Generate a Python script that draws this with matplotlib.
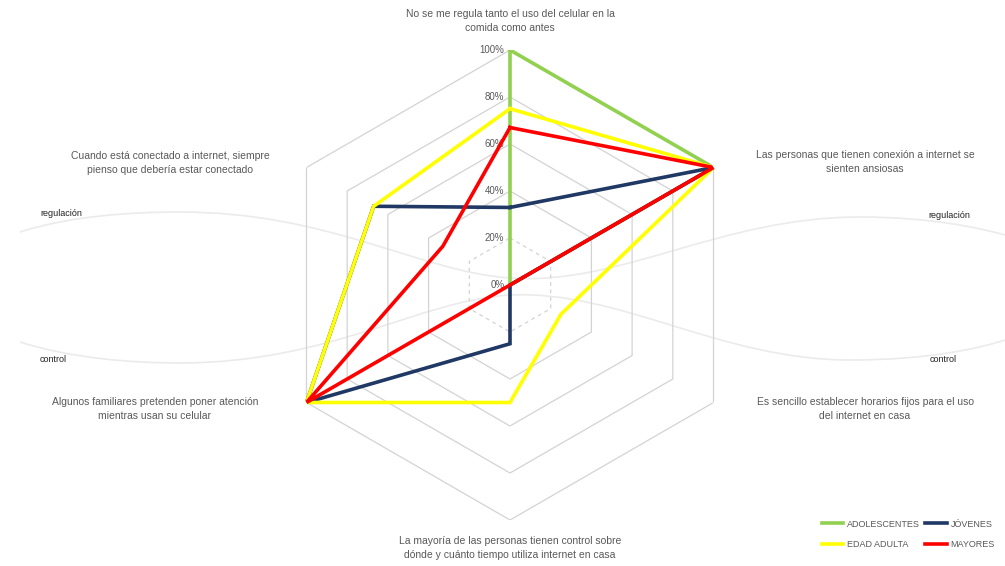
import matplotlib

matplotlib.use("Agg")
import matplotlib.pyplot as plt
import numpy as np
from matplotlib.path import Path
from matplotlib.patches import PathPatch

plt.rcParams["font.family"] = ["Liberation Sans", "DejaVu Sans"]

W, H = 1005, 566

# axes clockwise from the top
categories = [
    "No se me regula tanto el uso del celular en la\ncomida como antes",
    "Las personas que tienen conexión a internet se\nsienten ansiosas",
    "Es sencillo establecer horarios fijos para el uso\ndel internet en casa",
    "La mayoría de las personas tienen control sobre\ndónde y cuánto tiempo utiliza internet en casa",
    "Algunos familiares pretenden poner atención\nmientras usan su celular",
    "Cuando está conectado a internet, siempre\npienso que debería estar conectado",
]
series_names = ["ADOLESCENTES", "JÓVENES", "EDAD ADULTA", "MAYORES"]
adolescentes = [100, 100, 0, 0, 0, 0]
jovenes = [33, 100, 0, 25, 100, 67]
edad_adulta = [75, 100, 25, 50, 100, 67]
mayores = [67, 100, 0, 0, 100, 33]
r_ticks = [0, 20, 40, 60, 80, 100]
r_labels = ["0%", "20%", "40%", "60%", "80%", "100%"]

colors = ["#92d050", "#1f3864", "#ffff00", "#ff0000"]
values = [adolescentes, jovenes, edad_adulta, mayores]


def px(x, y):
    return x / W, 1 - y / H


fig = plt.figure(figsize=(W / 100, H / 100), dpi=100)

# decorative background curves
bg = fig.add_axes([0, 0, 1, 1])
bg.set_xlim(0, W)
bg.set_ylim(H, 0)
bg.axis("off")
reg = [(20, 232), (70, 216), (130, 212), (180, 212),
       (330, 212), (420, 272), (510, 278),
       (620, 286), (720, 217), (860, 217),
       (930, 217), (980, 228), (1005, 235)]
ctl = [(20, 342), (70, 358), (130, 363), (180, 363),
       (330, 363), (420, 300), (510, 295),
       (620, 290), (720, 360), (850, 360),
       (930, 360), (980, 348), (1005, 340)]
codes = [Path.MOVETO] + [Path.CURVE4] * 12
for pts in (reg, ctl):
    bg.add_patch(PathPatch(Path(pts, codes), fill=False, ec="#ebebeb", lw=1.2))
for x, y, t in [(40, 213, "regulación"), (928, 215, "regulación"),
                (40, 360, "control"), (930, 360, "control")]:
    bg.text(x, y, t, fontsize=6.5, color="#222222", va="center", ha="left")

# radar
cx, cy, rad = 510, 285, 235
ax = fig.add_axes([(cx - rad) / W, (H - cy - rad) / H, 2 * rad / W, 2 * rad / H],
                  projection="polar")
ax.set_theta_zero_location("N")
ax.set_theta_direction(-1)
ax.set_ylim(0, 100)
ax.grid(False)
ax.spines["polar"].set_visible(False)
ax.set_xticks([])
ax.set_yticks([])
ax.patch.set_alpha(0)

theta = np.linspace(0, 2 * np.pi, len(categories), endpoint=False)
theta_c = np.append(theta, theta[0])
for r in r_ticks[1:]:
    ls = (0, (3, 3)) if r == 20 else "-"
    ax.plot(theta_c, [r] * len(theta_c), color="#d3d3d3", lw=0.9, ls=ls, zorder=1)
for r, lab in zip(r_ticks, r_labels):
    ax.annotate(lab, (0, r), xytext=(-4, 0), textcoords="offset points",
                ha="right", va="center", fontsize=7, color="#595959")

for name, vals, c in zip(series_names, values, colors):
    v = list(vals) + [vals[0]]
    ax.plot(theta_c, v, color=c, lw=2.6, label=name, zorder=3, solid_joinstyle="miter")

# category labels
label_pos = [(510, 21), (865, 162), (865, 409), (510, 548), (155, 409), (170, 163)]
for (x, y), lab in zip(label_pos, categories):
    fx, fy = px(x, y)
    fig.text(fx, fy, lab, ha="center", va="center", fontsize=7.5,
             color="#595959", linespacing=1.5)

handles, labels = ax.get_legend_handles_labels()
order = [0, 2, 1, 3]
fig.legend([handles[i] for i in order], [labels[i] for i in order], ncol=2,
           loc="lower right", bbox_to_anchor=(0.998, 0.015), fontsize=6.5, frameon=False,
           handlelength=2.4, handletextpad=0.4, columnspacing=0.6, labelspacing=1.3,
           labelcolor="#595959")

fig.savefig("out.png", dpi=100)
